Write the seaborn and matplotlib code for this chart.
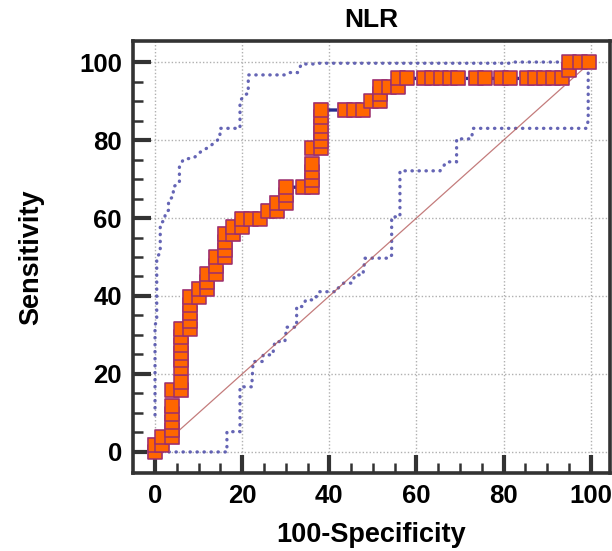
import matplotlib
matplotlib.use("Agg")
import matplotlib.pyplot as plt
import seaborn as sns
import pandas as pd

# ROC points (100-Specificity, Sensitivity)
fpr = [0, 0, 1.7, 1.7, 4, 4, 4, 4, 4, 4, 6, 6, 6, 6, 6, 6, 6, 6, 8, 8, 8, 8, 8, 10, 10, 12, 12, 12,
       14, 14, 14, 16, 16, 16, 16, 18, 18, 20, 20, 22, 24, 26, 28, 28, 30, 30, 30, 34, 36, 36, 36, 36,
       36, 38, 38, 38, 38, 38, 38, 43.5, 45.6, 47.7, 49.6, 51.6, 51.6, 51.6, 53.6, 55.8, 55.8, 57.8,
       61.7, 63.6, 65.6, 67.6, 69.6, 73.6, 75.7, 79.5, 81.4, 85.3, 87.3, 89.3, 91.3, 93.3, 95.1, 95.1,
       97.5, 99.6]
sens = [0, 1.8, 1.8, 3.8, 3.8, 5.7, 7.8, 9.8, 11.8, 15.8, 15.8, 17.9, 21.6, 23.5, 25.5, 27.5, 29.5,
        31.6, 31.6, 33.6, 35.6, 37.7, 39.8, 39.8, 41.8, 41.8, 43.7, 45.7, 45.7, 47.8, 49.9, 49.9, 51.8,
        53.8, 55.9, 55.9, 57.8, 57.8, 59.8, 59.8, 59.8, 61.9, 61.9, 63.9, 63.9, 65.8, 67.9, 67.9, 67.9,
        69.8, 71.8, 73.9, 77.9, 77.9, 79.8, 81.7, 83.7, 85.9, 87.7, 87.7, 87.7, 87.7, 89.9, 89.9, 91.7,
        93.7, 93.7, 93.7, 95.8, 95.8, 95.8, 95.8, 95.8, 95.8, 95.8, 95.8, 95.8, 95.8, 95.8, 95.8, 95.8,
        95.8, 95.8, 95.8, 98.0, 100, 100, 100]

# Upper confidence band
upper_x = [0, 0, 0.4, 0.4, 1.2, 1.2, 2.3, 2.3, 3.1, 3.1, 4.2, 4.2, 5.6, 5.6, 6.5, 9.0, 10.5, 12.5,
           14.9, 14.9, 19.5, 19.5, 20.5, 21.4, 21.4, 30.0, 31.0, 32.7, 33.6, 37.1, 37.4, 81.8, 82.2, 100]
upper_y = [9.5, 32.6, 33.5, 50, 51, 58.6, 59.5, 61.2, 62, 64.6, 65.5, 68, 69, 73.2, 75, 75.5, 77, 78.3,
           80.5, 83, 83, 90, 91.5, 92, 96.7, 96.7, 97.3, 97.3, 99.5, 99.5, 99.7, 99.7, 100, 100]

# Lower confidence band
lower_x = [0, 16.5, 16.5, 19.5, 19.5, 22.2, 22.5, 24.8, 24.8, 27.0, 27.5, 29.8, 30.2, 32.5, 32.5, 33.9,
           34.6, 36.7, 37.5, 41.7, 42.0, 43.3, 45.2, 45.9, 47.7, 48.2, 53.9, 54.3, 54.3, 56.2, 56.2,
           65.4, 66.9, 69.2, 69.2, 72.6, 73.0, 99.0, 99.4, 99.4, 100]
lower_y = [0, 0, 5.2, 5.2, 16.7, 16.7, 23.2, 23.2, 24.9, 24.9, 28.3, 28.3, 32.0, 32.0, 37.3, 37.3,
           39.0, 39.0, 41.1, 41.1, 42.0, 43.3, 43.3, 45.4, 45.4, 49.7, 49.7, 50.5, 60.3, 60.3, 72.1,
           72.1, 74.4, 74.4, 80.3, 80.3, 83.0, 83.0, 85.0, 100, 100]

diag = [0, 100]

sns.set_style("white")
plt.rcParams['font.family'] = ['Liberation Sans', 'DejaVu Sans']

fig = plt.figure(figsize=(6.12, 5.51), dpi=100)
ax = fig.add_axes([133 / 612, 78 / 551, (610 - 133) / 612, (473 - 41) / 551])

roc = pd.DataFrame({"fpr": fpr, "sens": sens})
up = pd.DataFrame({"x": upper_x, "y": upper_y})
lo = pd.DataFrame({"x": lower_x, "y": lower_y})
dg = pd.DataFrame({"x": diag, "y": diag})

band_kw = dict(color="#4a4aa8", lw=2.4, linestyle=(0, (0.1, 2.0)), dash_capstyle="round",
               sort=False, estimator=None, zorder=2, alpha=0.85)
sns.lineplot(data=up, x="x", y="y", ax=ax, **band_kw)
sns.lineplot(data=lo, x="x", y="y", ax=ax, **band_kw)
sns.lineplot(data=dg, x="x", y="y", ax=ax, color="#b05050", lw=0.9, alpha=0.75,
             sort=False, estimator=None, zorder=2)
sns.lineplot(data=roc, x="fpr", y="sens", ax=ax, color="#2b2b8c", lw=2.4,
             sort=False, estimator=None, zorder=3)
sns.scatterplot(data=roc, x="fpr", y="sens", ax=ax, marker="s", s=118,
                color="#e6b3d3", edgecolor="none", zorder=4, linewidth=0)
sns.scatterplot(data=roc, x="fpr", y="sens", ax=ax, marker="s", s=95,
                color="#ff6600", edgecolor="#9b2f6e", linewidth=1.1, zorder=5)

ax.set_xlim(-5.05, 104.4)
ax.set_ylim(-5.4, 105.4)
ax.set_xticks([0, 20, 40, 60, 80, 100])
ax.set_yticks([0, 20, 40, 60, 80, 100])
ax.set_xticks(range(0, 101, 5), minor=True)
ax.set_yticks(range(0, 101, 5), minor=True)
ax.grid(True, which="major", color="#b0b0b0", linestyle=(0, (1, 1.5)), lw=1.0, zorder=0)
ax.set_axisbelow(True)

for s in ax.spines.values():
    s.set_visible(True)
    s.set_linewidth(2.6)
    s.set_color("#333333")

ax.tick_params(axis="both", which="major", direction="in", length=13, width=3,
               color="#333333", labelsize=18.5, labelcolor="black", pad=8, top=False,
               right=False, bottom=True, left=True)
ax.tick_params(axis="both", which="minor", direction="in", length=7, width=1.8,
               color="#333333", top=False, right=False, bottom=True, left=True)
for lab in ax.get_xticklabels() + ax.get_yticklabels():
    lab.set_fontweight("bold")

ax.set_xlabel("100-Specificity", fontsize=19.5, fontweight="bold", labelpad=10, color="black")
ax.set_ylabel("Sensitivity", fontsize=19.5, fontweight="bold", labelpad=25, color="black")
ax.set_title("NLR", fontsize=19, fontweight="bold", pad=10, color="black")

fig.savefig("out.png", dpi=100)
